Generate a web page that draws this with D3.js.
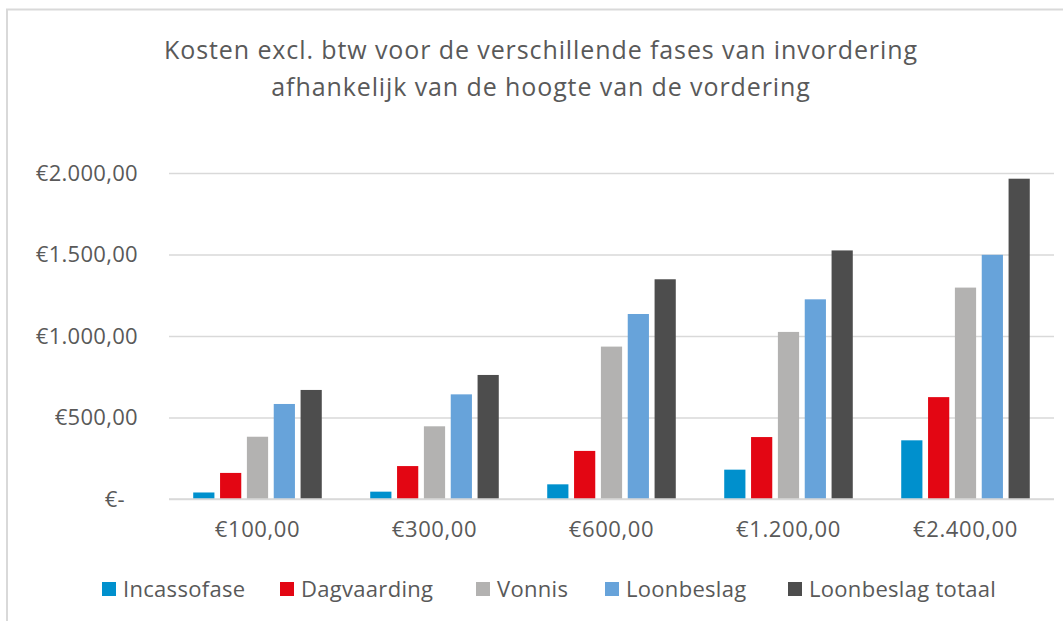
<!DOCTYPE html>
<html>
<head>
<meta charset="utf-8">
<script src="https://cdn.jsdelivr.net/npm/d3@7"></script>
<style>
  body { margin: 0; background: #fff; }
  text { font-family: "Open Sans", "Noto Sans", sans-serif; fill: #595959; }
</style>
</head>
<body>
<div id="chart"></div>
<script>
// data
const vorderingen = [100, 300, 600, 1200, 2400];
const fases = ["Incassofase", "Dagvaarding", "Vonnis", "Loonbeslag", "Loonbeslag totaal"];
const incassofase = [40, 45, 90, 180, 360];
const dagvaarding = [160, 202, 295, 380, 625];
const vonnis = [382, 446, 935, 1025, 1297];
const loonbeslag = [583, 642, 1135, 1225, 1498];
const loonbeslagTotaal = [669, 761, 1348, 1525, 1965];
const yTicks = [0, 500, 1000, 1500, 2000];
const titleLines = ["Kosten excl. btw voor de verschillende fases van invordering",
                    "afhankelijk van de hoogte van de vordering"];
const colors = ["#0090cd", "#e30613", "#b3b2b1", "#67a3da", "#4d4d4d"];

const series = [incassofase, dagvaarding, vonnis, loonbeslag, loonbeslagTotaal];

const size = {width: 1063, height: 621};
const plot = {left: 169, right: 1054, top: 173, bottom: 499};

const nl = d3.formatLocale({decimal: ",", thousands: ".", grouping: [3], currency: ["€", ""]});
const euro = nl.format("$,.2f");

const svg = d3.select("#chart").append("svg")
    .attr("width", size.width)
    .attr("height", size.height);

// chart area border (only top and left visible in the crop)
svg.append("rect")
    .attr("x", 7).attr("y", 9.5)
    .attr("width", 1200).attr("height", 800)
    .attr("fill", "none")
    .attr("stroke", "#d9d9d9")
    .attr("stroke-width", 2);

// title
svg.append("g").selectAll("text")
    .data(titleLines)
    .join("text")
    .attr("x", 541)
    .attr("y", (d, i) => 59 + i * 37)
    .attr("text-anchor", "middle")
    .style("font-size", "25px")
    .style("letter-spacing", "0.9px")
    .text(d => d);

const x0 = d3.scaleBand()
    .domain(vorderingen)
    .range([plot.left, plot.right])
    .paddingInner(0.21)
    .paddingOuter(0.105);

const x1 = d3.scaleBand()
    .domain(d3.range(fases.length))
    .range([0, x0.bandwidth()])
    .padding(0.21);

const y = d3.scaleLinear()
    .domain([0, 2000])
    .range([plot.bottom, plot.top]);

// gridlines + y labels
const yAxis = d3.axisLeft(y)
    .tickValues(yTicks)
    .tickSize(-(plot.right - plot.left))
    .tickPadding(31)
    .tickFormat(d => d === 0 ? "€-" : euro(d));

svg.append("g")
    .attr("class", "y-axis")
    .attr("transform", "translate(" + plot.left + ",0)")
    .call(yAxis)
    .call(g => g.select(".domain").remove())
    .call(g => g.selectAll(".tick line").attr("stroke", "#d9d9d9").attr("stroke-width", 1.5))
    .call(g => g.selectAll(".tick text")
        .style("font-size", "22px")
        .style("letter-spacing", "0.3px")
        .attr("fill", "#595959")
        .attr("dx", d => d === 0 ? -13 : 0));

// x labels
svg.append("g")
    .attr("class", "x-axis")
    .attr("transform", "translate(0," + plot.bottom + ")")
    .call(d3.axisBottom(x0).tickSize(0).tickPadding(22).tickFormat(euro))
    .call(g => g.select(".domain").remove())
    .call(g => g.selectAll(".tick text")
        .style("font-size", "22px")
        .style("letter-spacing", "0.6px")
        .attr("fill", "#595959"));

// bars
const groups = svg.append("g").selectAll(".itemG")
    .data(vorderingen)
    .join("g")
    .attr("class", "itemG")
    .attr("transform", d => "translate(" + x0(d) + ",0)");

groups.selectAll("rect")
    .data((d, ci) => series.map((s, si) => ({si: si, value: s[ci]})))
    .join("rect")
    .attr("x", d => x1(d.si))
    .attr("y", d => y(d.value))
    .attr("width", x1.bandwidth())
    .attr("height", d => y(0) - y(d.value))
    .attr("fill", d => colors[d.si]);

// baseline on top of bars
svg.append("line")
    .attr("x1", plot.left).attr("x2", plot.right)
    .attr("y1", y(0)).attr("y2", y(0))
    .attr("stroke", "#d9d9d9")
    .attr("stroke-width", 1.5);

// legend
const legendX = [102, 280, 476, 605, 788];
const legend = svg.append("g").selectAll("g")
    .data(fases)
    .join("g")
    .attr("transform", (d, i) => "translate(" + legendX[i] + ",582)");

legend.append("rect")
    .attr("width", 14).attr("height", 14)
    .attr("fill", (d, i) => colors[i]);

legend.append("text")
    .attr("x", 21)
    .attr("y", 14.5)
    .style("font-size", "22px")
    .style("letter-spacing", "0.3px")
    .text(d => d);
</script>
</body>
</html>
